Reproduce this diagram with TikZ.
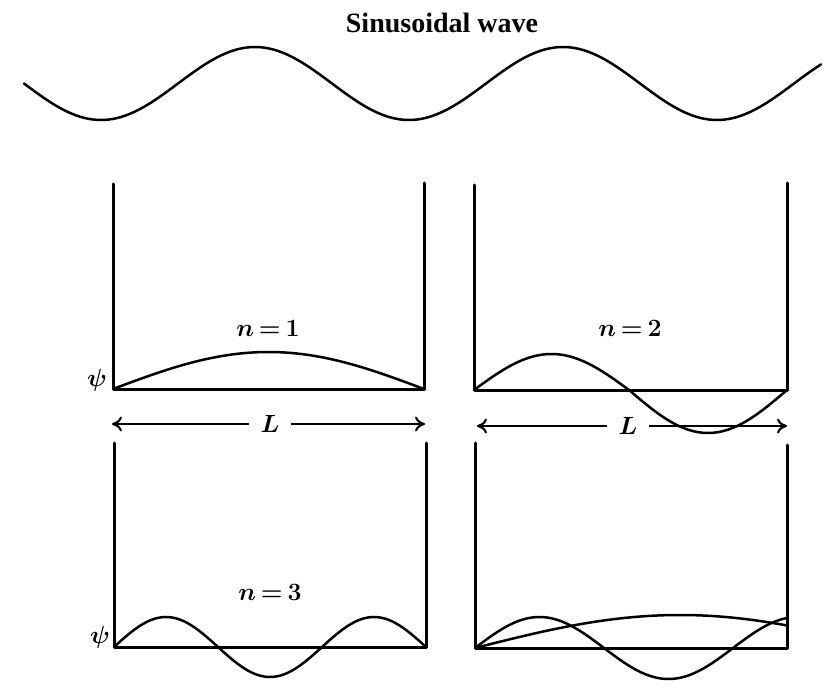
\documentclass[tikz,border=0pt]{standalone}
\usepackage{amsmath}
\usepackage{fontspec}
\newfontfamily\titlefont{Liberation Serif}
\usetikzlibrary{arrows.meta}
\begin{document}
\begin{tikzpicture}[x=1pt,y=-1pt,
  wall/.style={line width=3pt, line cap=round, line join=round},
  wave/.style={line width=2.5pt, line cap=round, line join=round},
  dimarrow/.style={line width=2pt, -{To[length=10pt,width=15pt]}},
  lbl/.style={font=\fontsize{26}{30}\selectfont\boldmath, inner sep=0pt},
  psilbl/.style={font=\fontsize{24}{28}\selectfont\boldmath, inner sep=0pt},
  Llbl/.style={font=\fontsize{25}{29}\selectfont\boldmath, inner xsep=11pt, inner ysep=0pt}]
\useasboundingbox (0,0) rectangle (836,690);

% title and sinusoidal wave
\node[font=\titlefont\bfseries\fontsize{28}{32}\selectfont, inner sep=0pt] (title) at (442,23) {Sinusoidal wave};
\draw[wave] plot[domain=24:821, samples=200, smooth] (\x, {83.5+36.5*sin((\x-24)/308*360)});

% panel n=1
\draw[wall] (113,184) -- (113,389) -- (424,389) -- (424,183);
\draw[wave] plot[domain=113:424, samples=80, smooth] (\x, {389-37*sin((\x-113)/311*180)});
\node[lbl] (n1) at (268,328) {$n\,{=}\,1$};
\node[psilbl] (psi1) at (97,380) {$\psi$};
\coordinate (a1l) at (112,424);
\coordinate (a1r) at (425,424);
\node[Llbl] (L1) at (270,424) {$L$};
\draw[dimarrow] (L1) -- (a1l);
\draw[dimarrow] (L1) -- (a1r);

% panel n=2
\draw[wall] (474,185) -- (474,390) -- (787,390) -- (787,183);
\draw[wave] plot[domain=474:629, samples=60, smooth] (\x, {390-36*sin((\x-474)/310*360)})
  -- plot[domain=629:787, samples=60, smooth] (\x, {390+43*sin((\x-629)/316*360)});
\node[lbl] (n2) at (630,328) {$n\,{=}\,2$};
\coordinate (a2l) at (477,426);
\coordinate (a2r) at (787,426);
\node[Llbl] (L2) at (628,426) {$L$};
\draw[dimarrow] (L2) -- (a2l);
\draw[dimarrow] (L2) -- (a2r);

% panel n=3
\draw[wall] (114,443) -- (114,647) -- (426,647) -- (426,443);
\draw[wave] plot[domain=114:426, samples=120, smooth] (\x, {647-30*sin((\x-114)/312*540)});
\node[lbl] (n3) at (270,592) {$n\,{=}\,3$};
\node[psilbl] (psi3) at (100,637) {$\psi$};

% panel with non-fitting waves
\draw[wall] (475,443) -- (475,648) -- (787,648) -- (787,445);
\draw[wave] plot[domain=475:787, samples=100, smooth] (\x, {648-33*sin((\x-475)/205*90)});
\draw[wave] plot[domain=475:787, samples=120, smooth] (\x, {648-31*sin((\x-475)/129*180)});
\end{tikzpicture}
\end{document}
